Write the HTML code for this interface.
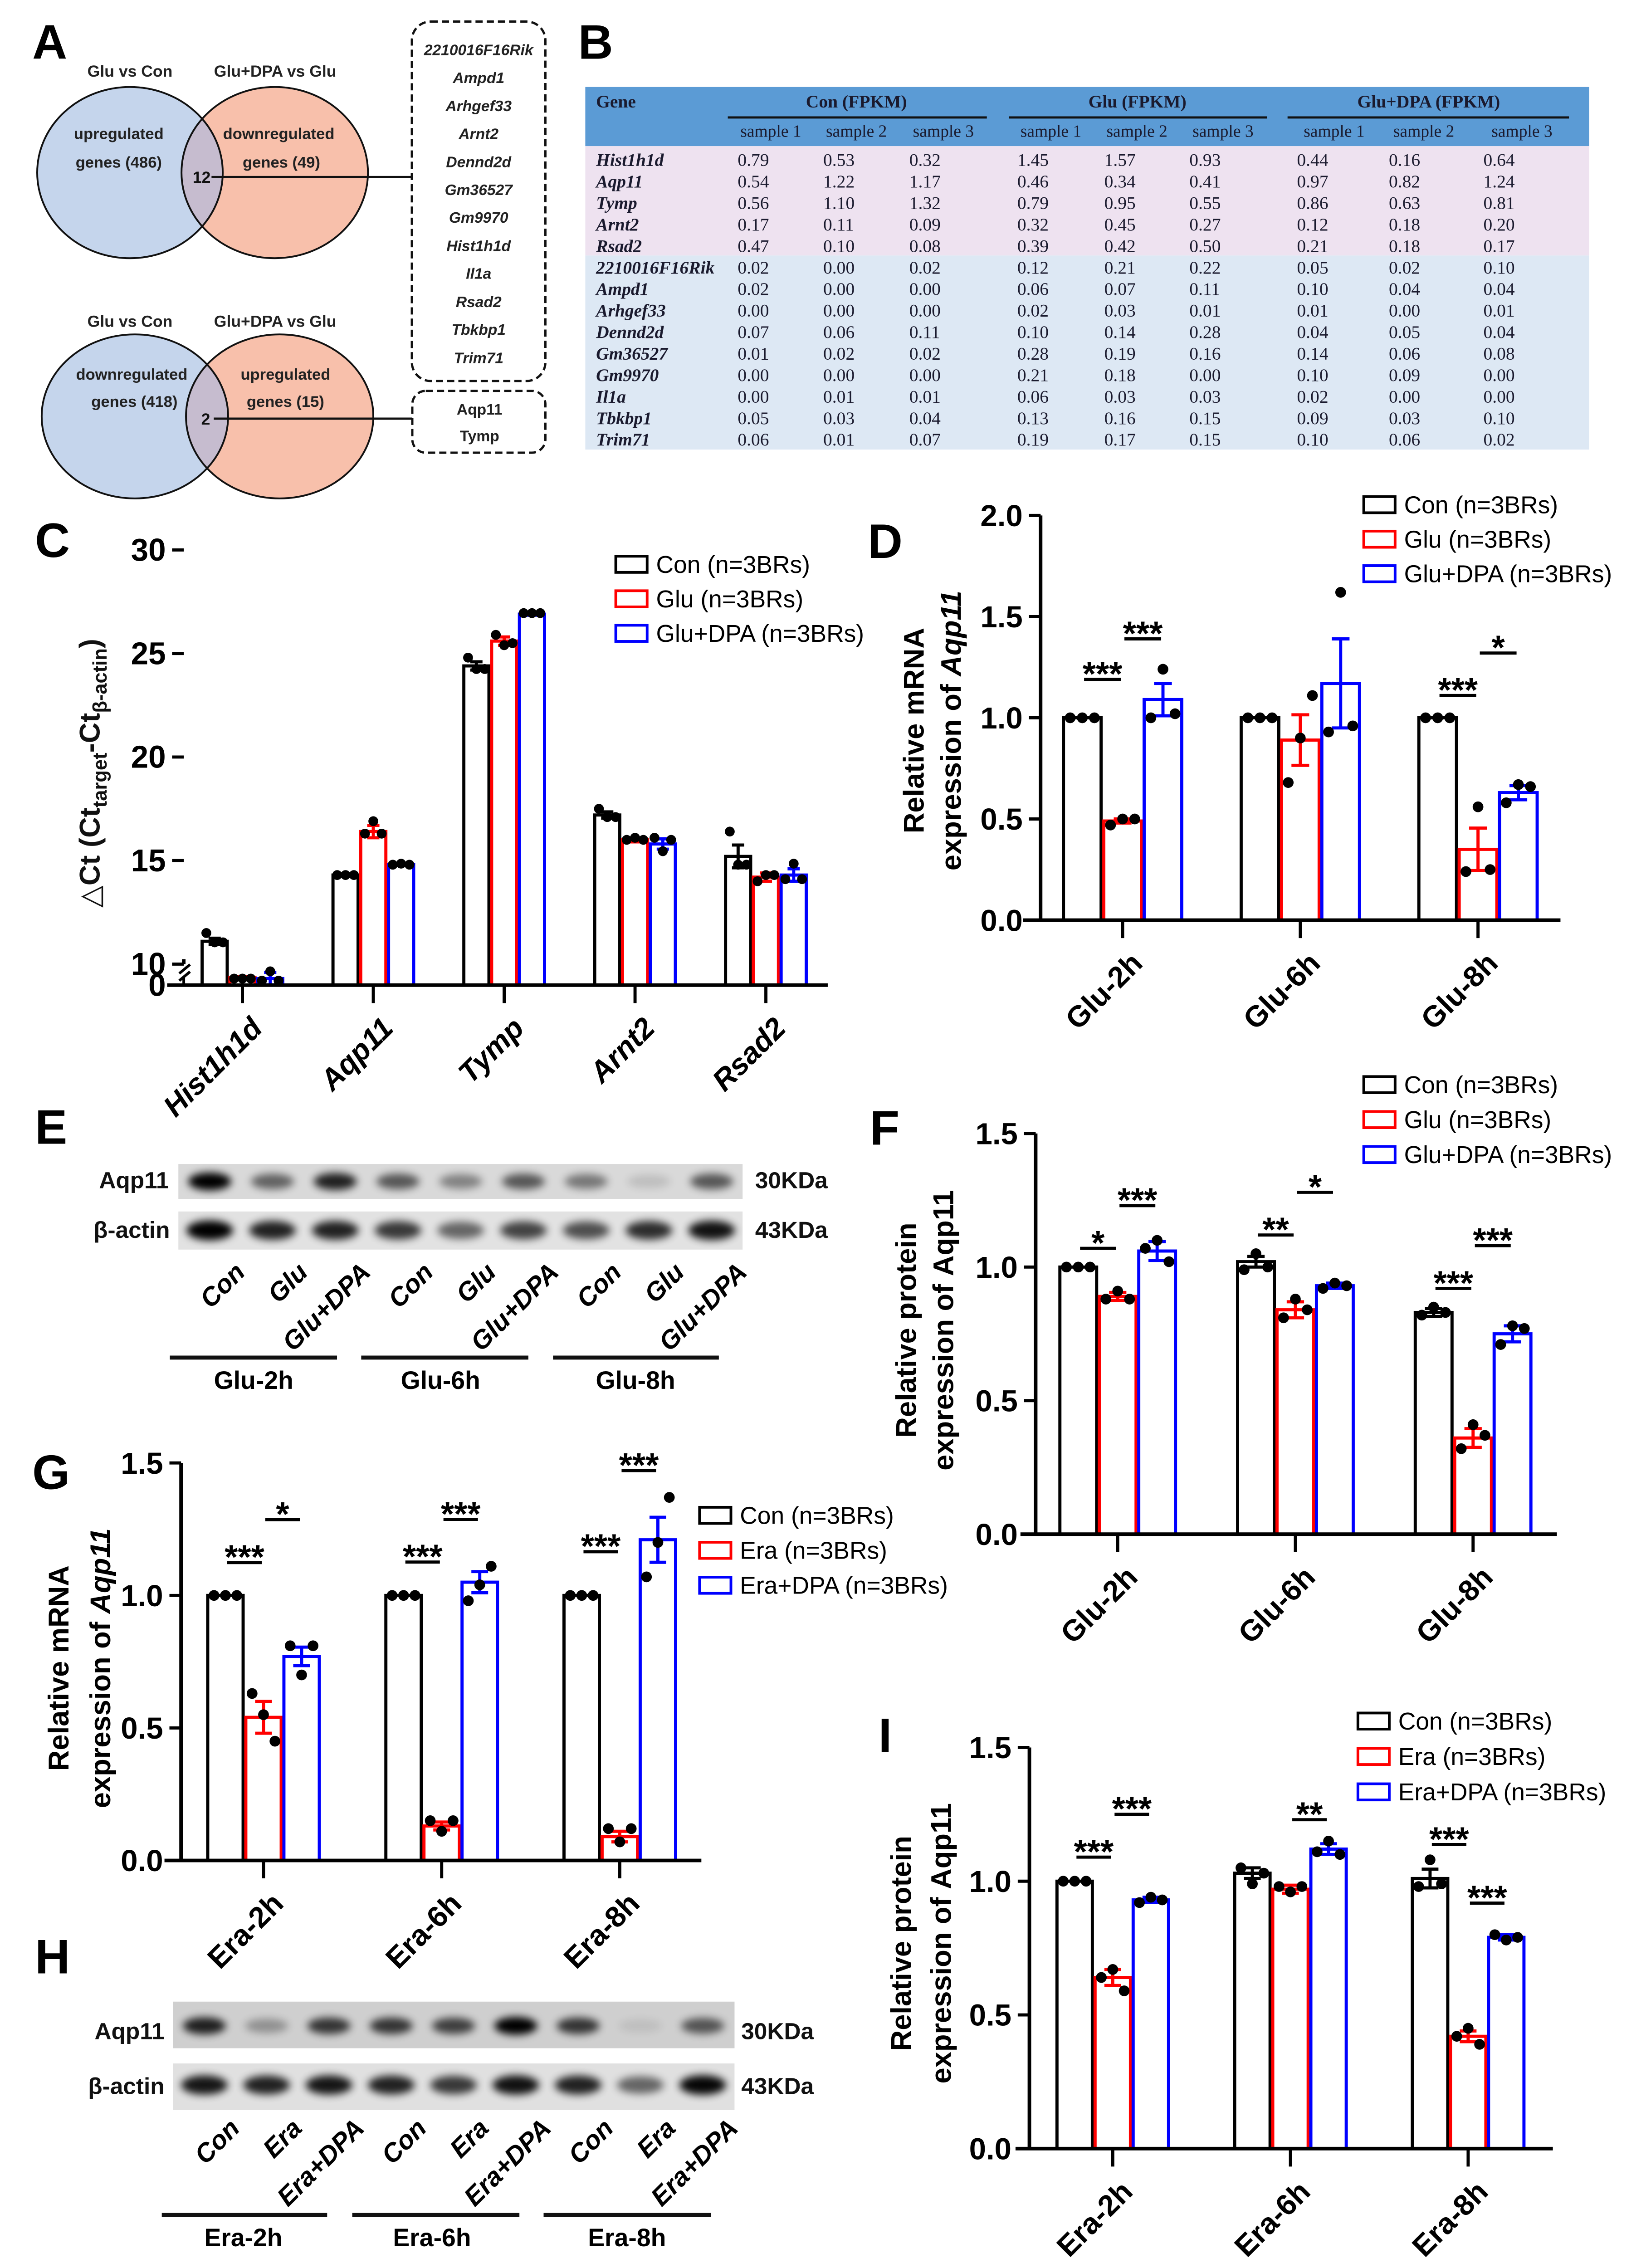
<!DOCTYPE html>
<html><head><meta charset="utf-8">
<style>
html,body{margin:0;padding:0;background:#fff;}
svg{display:block;}
text{font-family:"Liberation Sans",Arial,sans-serif;}
.serif{font-family:"Liberation Serif","Times New Roman",serif;}
</style></head>
<body>
<svg id="fig" xmlns="http://www.w3.org/2000/svg" width="3640" height="5062" viewBox="0 0 3684 5123">
<defs>
<filter id="blur" x="-50%" y="-100%" width="200%" height="300%"><feGaussianBlur stdDeviation="9"/></filter>
<clipPath id="clipL1"><ellipse cx="290" cy="385" rx="207" ry="191"/></clipPath>
<clipPath id="clipL2"><ellipse cx="301" cy="929" rx="208" ry="183"/></clipPath>
</defs>
<rect x="0" y="0" width="3684" height="5123" fill="#fff"/>

<!-- Panel letters -->
<g font-weight="bold" font-size="108">
<text x="72" y="131">A</text>
<text x="1290" y="131">B</text>
<text x="78" y="1243">C</text>
<text x="1936" y="1245">D</text>
<text x="78" y="2552">E</text>
<text x="1941" y="2554">F</text>
<text x="72" y="3322">G</text>
<text x="78" y="4403">H</text>
<text x="1960" y="3909">I</text>
</g>

<!-- Panel A: Venn diagrams -->
<g>
<text x="290" y="171" font-size="36" font-weight="bold" text-anchor="middle" fill="#222">Glu vs Con</text>
<text x="614" y="171" font-size="36" font-weight="bold" text-anchor="middle" fill="#222">Glu+DPA vs Glu</text>
<ellipse cx="290" cy="385" rx="207" ry="191" fill="#c5d5ec"/>
<ellipse cx="613" cy="385" rx="208" ry="191" fill="#f8c0ab"/>
<ellipse cx="613" cy="385" rx="208" ry="191" fill="#c6bccf" clip-path="url(#clipL1)"/>
<ellipse cx="290" cy="385" rx="207" ry="191" fill="none" stroke="#111" stroke-width="4"/>
<ellipse cx="613" cy="385" rx="208" ry="191" fill="none" stroke="#111" stroke-width="4"/>
<text x="265" y="310" font-size="35" font-weight="bold" text-anchor="middle" fill="#222">upregulated</text>
<text x="265" y="374" font-size="35" font-weight="bold" text-anchor="middle" fill="#222">genes (486)</text>
<text x="622" y="310" font-size="35" font-weight="bold" text-anchor="middle" fill="#222">downregulated</text>
<text x="628" y="374" font-size="35" font-weight="bold" text-anchor="middle" fill="#222">genes (49)</text>
<text x="450" y="408" font-size="36" font-weight="bold" text-anchor="middle" fill="#111">12</text>
<line x1="472" y1="395" x2="919" y2="395" stroke="#111" stroke-width="5"/>
</g>
<g>
<rect x="919" y="48" width="298" height="802" rx="42" fill="none" stroke="#111" stroke-width="5" stroke-dasharray="16,9"/>
<g font-size="34" font-weight="bold" font-style="italic" text-anchor="middle" fill="#222">
<text x="1068" y="123">2210016F16Rik</text>
<text x="1068" y="185">Ampd1</text>
<text x="1068" y="248">Arhgef33</text>
<text x="1068" y="310">Arnt2</text>
<text x="1068" y="373">Dennd2d</text>
<text x="1068" y="435">Gm36527</text>
<text x="1068" y="497">Gm9970</text>
<text x="1068" y="560">Hist1h1d</text>
<text x="1068" y="622">Il1a</text>
<text x="1068" y="685">Rsad2</text>
<text x="1068" y="747">Tbkbp1</text>
<text x="1068" y="810">Trim71</text>
</g>
</g>
<g>
<text x="290" y="729" font-size="36" font-weight="bold" text-anchor="middle" fill="#222">Glu vs Con</text>
<text x="614" y="729" font-size="36" font-weight="bold" text-anchor="middle" fill="#222">Glu+DPA vs Glu</text>
<ellipse cx="301" cy="929" rx="208" ry="183" fill="#c5d5ec"/>
<ellipse cx="624" cy="929" rx="209" ry="183" fill="#f8c0ab"/>
<ellipse cx="624" cy="929" rx="209" ry="183" fill="#c6bccf" clip-path="url(#clipL2)"/>
<ellipse cx="301" cy="929" rx="208" ry="183" fill="none" stroke="#111" stroke-width="4"/>
<ellipse cx="624" cy="929" rx="209" ry="183" fill="none" stroke="#111" stroke-width="4"/>
<text x="294" y="847" font-size="35" font-weight="bold" text-anchor="middle" fill="#222">downregulated</text>
<text x="300" y="908" font-size="35" font-weight="bold" text-anchor="middle" fill="#222">genes (418)</text>
<text x="637" y="847" font-size="35" font-weight="bold" text-anchor="middle" fill="#222">upregulated</text>
<text x="637" y="908" font-size="35" font-weight="bold" text-anchor="middle" fill="#222">genes (15)</text>
<text x="459" y="947" font-size="36" font-weight="bold" text-anchor="middle" fill="#111">2</text>
<line x1="477" y1="934" x2="920" y2="934" stroke="#111" stroke-width="5"/>
<rect x="920" y="872" width="297" height="138" rx="30" fill="none" stroke="#111" stroke-width="5" stroke-dasharray="16,9"/>
<text x="1070" y="925" font-size="34" font-weight="bold" text-anchor="middle" fill="#222">Aqp11</text>
<text x="1070" y="984" font-size="34" font-weight="bold" text-anchor="middle" fill="#222">Tymp</text>
</g>

<!-- Panel B table -->
<g id="tableB">
<rect x="1306" y="194" width="2240" height="132" fill="#5b9bd5"/>
<rect x="1306" y="326" width="2240" height="244" fill="#eee2f0"/>
<rect x="1306" y="570" width="2240" height="433" fill="#dde8f4"/>
<g class="serif" font-size="40" fill="#1a1a2e">
<text class="serif" x="1330" y="240" font-weight="bold">Gene</text>
<text class="serif" x="1911" y="240" text-anchor="middle" font-weight="bold">Con (FPKM)</text>
<text class="serif" x="2538" y="240" text-anchor="middle" font-weight="bold">Glu (FPKM)</text>
<text class="serif" x="3188" y="240" text-anchor="middle" font-weight="bold">Glu+DPA (FPKM)</text>
</g>
<line x1="1624" y1="262" x2="2202" y2="262" stroke="#111" stroke-width="5"/>
<line x1="2251" y1="262" x2="2827" y2="262" stroke="#111" stroke-width="5"/>
<line x1="2873" y1="262" x2="3501" y2="262" stroke="#111" stroke-width="5"/>
</g>

<!-- Panel E blot -->
<g id="blotE">
<rect x="398" y="2597" width="1259" height="78" fill="#d9d9d9"/>
<rect x="398" y="2703" width="1259" height="85" fill="#e2e2e2"/>
<g font-size="52" font-weight="bold" fill="#111">
<text x="377" y="2651" text-anchor="end">Aqp11</text>
<text x="379" y="2762" text-anchor="end">β-actin</text>
<text x="1685" y="2651">30KDa</text>
<text x="1685" y="2762">43KDa</text>
</g>
</g>
<!-- Panel H blot -->
<g id="blotH">
<rect x="386" y="4466" width="1253" height="104" fill="#cfcfcf"/>
<rect x="386" y="4604" width="1253" height="104" fill="#e0e0e0"/>
<g font-size="52" font-weight="bold" fill="#111">
<text x="367" y="4550" text-anchor="end">Aqp11</text>
<text x="367" y="4672" text-anchor="end">β-actin</text>
<text x="1654" y="4550">30KDa</text>
<text x="1654" y="4672">43KDa</text>
</g>
</g>
</svg>

<script>
// ---------- DATA ----------
// Table B
const tableGenes = ['Hist1h1d','Aqp11','Tymp','Arnt2','Rsad2','2210016F16Rik','Ampd1','Arhgef33','Dennd2d','Gm36527','Gm9970','Il1a','Tbkbp1','Trim71'];
const tableValues = [
 ['0.79','0.53','0.32','1.45','1.57','0.93','0.44','0.16','0.64'],
 ['0.54','1.22','1.17','0.46','0.34','0.41','0.97','0.82','1.24'],
 ['0.56','1.10','1.32','0.79','0.95','0.55','0.86','0.63','0.81'],
 ['0.17','0.11','0.09','0.32','0.45','0.27','0.12','0.18','0.20'],
 ['0.47','0.10','0.08','0.39','0.42','0.50','0.21','0.18','0.17'],
 ['0.02','0.00','0.02','0.12','0.21','0.22','0.05','0.02','0.10'],
 ['0.02','0.00','0.00','0.06','0.07','0.11','0.10','0.04','0.04'],
 ['0.00','0.00','0.00','0.02','0.03','0.01','0.01','0.00','0.01'],
 ['0.07','0.06','0.11','0.10','0.14','0.28','0.04','0.05','0.04'],
 ['0.01','0.02','0.02','0.28','0.19','0.16','0.14','0.06','0.08'],
 ['0.00','0.00','0.00','0.21','0.18','0.00','0.10','0.09','0.00'],
 ['0.00','0.01','0.01','0.06','0.03','0.03','0.02','0.00','0.00'],
 ['0.05','0.03','0.04','0.13','0.16','0.15','0.09','0.03','0.10'],
 ['0.06','0.01','0.07','0.19','0.17','0.15','0.10','0.06','0.02']
];
const tableSampleLabels = ['sample 1','sample 2','sample 3','sample 1','sample 2','sample 3','sample 1','sample 2','sample 3'];

// Panel C
const cCategories = ['Hist1h1d','Aqp11','Tymp','Arnt2','Rsad2'];
const cTickLabels = ['30','25','20','15','10'];
const cTickValues = [30,25,20,15,10];
const cConMeans = [11.1,14.3,24.4,17.2,15.2];
const cGluMeans = [9.35,16.4,25.6,16.0,14.2];
const cDpaMeans = [9.3,14.8,26.9,15.8,14.3];
const cConErr = [0.15,0.05,0.2,0.15,0.55];
const cGluErr = [0.05,0.3,0.2,0.1,0.2];
const cDpaErr = [0.3,0.05,0.05,0.25,0.3];
const cConDots = [[11.5,11.05,11.05],[14.3,14.3,14.3],[24.8,24.25,24.25],[17.5,17.1,17.1],[16.4,14.8,14.8]];
const cGluDots = [[9.3,9.3,9.3],[16.3,16.9,16.3],[25.9,25.4,25.5],[16.0,16.1,16.0],[14.0,14.3,14.3]];
const cDpaDots = [[9.2,9.65,9.2],[14.8,14.85,14.8],[26.95,26.95,26.95],[16.1,15.45,16.0],[14.1,14.85,14.1]];

// Panel D
const dCategories = ['Glu-2h','Glu-6h','Glu-8h'];
const dTickLabels = ['0.0','0.5','1.0','1.5','2.0'];
const dTickValues = [0,0.5,1.0,1.5,2.0];
const dConMeans = [1.0,1.0,1.0];
const dGluMeans = [0.49,0.89,0.35];
const dDpaMeans = [1.09,1.17,0.63];
const dConErr = [0,0,0];
const dGluErr = [0.01,0.125,0.105];
const dDpaErr = [0.08,0.22,0.035];
const dConDots = [[1,1,1],[1,1,1],[1,1,1]];
const dGluDots = [[0.47,0.5,0.5],[0.68,0.9,1.11],[0.24,0.56,0.25]];
const dDpaDots = [[1.0,1.24,1.02],[0.93,1.62,0.96],[0.58,0.67,0.66]];
const dSigGroup = [0,0,2,2];
const dSigPair = [0,1,0,1];
const dSigLevel = [1.19,1.39,1.11,1.32];
const dSigText = ['***','***','***','*'];

// Panel F
const fCategories = ['Glu-2h','Glu-6h','Glu-8h'];
const fTickLabels = ['0.0','0.5','1.0','1.5'];
const fTickValues = [0,0.5,1.0,1.5];
const fConMeans = [1.0,1.02,0.83];
const fGluMeans = [0.89,0.84,0.36];
const fDpaMeans = [1.06,0.93,0.75];
const fConErr = [0,0.02,0.015];
const fGluErr = [0.015,0.03,0.035];
const fDpaErr = [0.035,0.01,0.03];
const fConDots = [[1,1,1],[0.99,1.05,1.0],[0.82,0.85,0.83]];
const fGluDots = [[0.88,0.91,0.88],[0.81,0.88,0.84],[0.32,0.41,0.37]];
const fDpaDots = [[1.07,1.10,1.02],[0.92,0.94,0.93],[0.71,0.78,0.77]];
const fSigGroup = [0,0,1,1,2,2];
const fSigPair = [0,1,0,1,0,1];
const fSigLevel = [1.07,1.23,1.12,1.28,0.92,1.08];
const fSigText = ['*','***','**','*','***','***'];

// Panel G
const gCategories = ['Era-2h','Era-6h','Era-8h'];
const gTickLabels = ['0.0','0.5','1.0','1.5'];
const gTickValues = [0,0.5,1.0,1.5];
const gConMeans = [1.0,1.0,1.0];
const gEraMeans = [0.54,0.13,0.09];
const gDpaMeans = [0.77,1.05,1.21];
const gConErr = [0,0,0];
const gEraErr = [0.06,0.015,0.02];
const gDpaErr = [0.035,0.04,0.085];
const gConDots = [[1,1,1],[1,1,1],[1,1,1]];
const gEraDots = [[0.63,0.55,0.45],[0.15,0.11,0.15],[0.12,0.07,0.12]];
const gDpaDots = [[0.81,0.70,0.81],[0.98,1.04,1.11],[1.07,1.20,1.37]];
const gSigGroup = [0,0,1,1,2,2];
const gSigPair = [0,1,0,1,0,1];
const gSigLevel = [1.124,1.286,1.126,1.287,1.165,1.471];
const gSigText = ['***','*','***','***','***','***'];

// Panel I
const iCategories = ['Era-2h','Era-6h','Era-8h'];
const iTickLabels = ['0.0','0.5','1.0','1.5'];
const iTickValues = [0,0.5,1.0,1.5];
const iConMeans = [1.0,1.03,1.01];
const iEraMeans = [0.64,0.97,0.42];
const iDpaMeans = [0.93,1.12,0.79];
const iConErr = [0,0.02,0.035];
const iEraErr = [0.03,0.015,0.02];
const iDpaErr = [0.01,0.02,0.01];
const iConDots = [[1,1,1],[1.05,0.99,1.03],[0.98,1.08,0.99]];
const iEraDots = [[0.64,0.67,0.59],[0.98,0.96,0.98],[0.42,0.45,0.39]];
const iDpaDots = [[0.92,0.94,0.93],[1.11,1.15,1.10],[0.80,0.78,0.79]];
const iSigGroup = [0,0,1,2,2];
const iSigPair = [0,1,1,0,1];
const iSigLevel = [1.09,1.25,1.23,1.137,0.918];
const iSigText = ['***','***','**','***','***'];

// Blots (band intensities)
const eLaneLabels = ['Con','Glu','Glu+DPA','Con','Glu','Glu+DPA','Con','Glu','Glu+DPA'];
const eAqpBands = [1.0,0.55,0.85,0.6,0.4,0.6,0.45,0.12,0.6];
const eActinBands = [1.0,0.85,0.85,0.75,0.55,0.7,0.65,0.8,0.92];
const eGroupLabels = ['Glu-2h','Glu-6h','Glu-8h'];
const hLaneLabels = ['Con','Era','Era+DPA','Con','Era','Era+DPA','Con','Era','Era+DPA'];
const hAqpBands = [0.85,0.3,0.75,0.75,0.7,1.0,0.75,0.08,0.6];
const hActinBands = [0.9,0.85,0.9,0.85,0.75,0.92,0.85,0.55,0.97];
const hGroupLabels = ['Era-2h','Era-6h','Era-8h'];

// ---------- HELPERS ----------
const NS = 'http://www.w3.org/2000/svg';
const svg = document.getElementById('fig');
function mk(tag, attrs, parent){
  const e = document.createElementNS(NS, tag);
  for (const k in attrs) e.setAttribute(k, attrs[k]);
  (parent || svg).appendChild(e);
  return e;
}
function tx(str, attrs, parent){ const e = mk('text', attrs, parent); e.textContent = str; return e; }

// ---------- TABLE ----------
(function(){
  const g = document.getElementById('tableB');
  const sampleX = [1720,1911,2105,2345,2537,2729,2977,3177,3396];
  const valX = [1646,1837,2029,2270,2464,2654,2894,3099,3310];
  for (let j=0;j<tableSampleLabels.length;j++){
    const t = tx(tableSampleLabels[j], {x:sampleX[j], y:305, 'font-size':38, 'text-anchor':'middle', fill:'#1a1a2e', class:'serif'}, g);
    
    
  }
  for (let i=0;i<tableGenes.length;i++){
    const y = 356 + i*48 + 14;
    const gt = tx(tableGenes[i], {x:1330, y:y, 'font-size':40, 'font-style':'italic', 'font-weight':'bold', fill:'#1a1a2e', class:'serif'}, g);
    
    
    for (let j=0;j<9;j++){
      const vt = tx(tableValues[i][j], {x:valX[j], y:y, 'font-size':40, fill:'#1a1a2e', class:'serif'}, g);
      
      
    }
  }
})();

// ---------- BAR CHART ----------
const COLORS = ['#000000','#ff0000','#0000ff'];
function drawChart(P){
  const g = mk('g', {});
  
  
  const scale = P.scale || (v => P.y0 - v*P.ppu);
  const n = P.cats.length;
  const cx = i => P.tick0 + i*P.tickGap;
  const barX = (i,s) => cx(i) + (s-1)*P.barW;
  const yAx = mk('line', {x1:P.xAxis, y1:scale(P.tickVals[P.tickVals.length-1]) , x2:P.xAxis, y2:P.axisBottom || P.y0, stroke:'#000', 'stroke-width':8}, g);
  
  
  for (let k=0;k<P.tickVals.length;k++){
    const y = scale(P.tickVals[k]);
    const tk = mk('line', {x1:P.xAxis-26, y1:y, x2:P.xAxis, y2:y, stroke:'#000', 'stroke-width':7}, g);
    
    
    const tl = tx(P.tickLabels[k], {x:P.xAxis-40, y:y+24, 'font-size':P.tickFont||68, 'font-weight':'bold', 'text-anchor':'end'}, g);
    
    
  }
  const series = [P.s0, P.s1, P.s2];
  for (let s=0;s<3;s++){
    for (let i=0;i<n;i++){
      const v = series[s].means[i];
      const yT = scale(v);
      const b = mk('rect', {x:barX(i,s)-P.barW/2+3, y:yT, width:P.barW-6, height:Math.max(0,P.y0-yT), fill:'#fff', stroke:COLORS[s], 'stroke-width':7}, g);
      
      
    }
  }
  for (let s=0;s<3;s++){
    for (let i=0;i<n;i++){
      const m = series[s].means[i], e = series[s].err[i];
      const x = barX(i,s);
      if (e > 0){
        const eg = mk('g', {stroke:COLORS[s], 'stroke-width':7}, g);
        
        
        mk('line', {x1:x, y1:scale(m+e), x2:x, y2:scale(m-e)}, eg);
        mk('line', {x1:x-P.barW*0.22, y1:scale(m+e), x2:x+P.barW*0.22, y2:scale(m+e)}, eg);
        mk('line', {x1:x-P.barW*0.22, y1:scale(m-e), x2:x+P.barW*0.22, y2:scale(m-e)}, eg);
      }
      const ds = series[s].dots[i];
      const off = [-0.3,0,0.3];
      for (let d=0;d<ds.length;d++){
        const c = mk('circle', {cx:x+off[d]*P.barW, cy:scale(ds[d]), r:P.dotR||12, fill:'#000'}, g);
        
        
      }
    }
  }
  const xAx = mk('line', {x1:P.xStart, y1:P.y0, x2:P.xEnd, y2:P.y0, stroke:'#000', 'stroke-width':8}, g);
  
  
  for (let i=0;i<n;i++){
    const t = mk('line', {x1:cx(i), y1:P.y0, x2:cx(i), y2:P.y0+40, stroke:'#000', 'stroke-width':7}, g);
    
    
    const lbl = tx(P.cats[i], {transform:'translate(' + (cx(i)+48) + ',' + (P.y0+100) + ') rotate(-45)', 'font-size':P.xFont||66, 'font-weight':'bold', 'font-style':P.xItalic?'italic':'normal', 'text-anchor':'end'}, g);
    
    
  }
  if (P.sig){
    for (let k=0;k<P.sig.group.length;k++){
      const i = P.sig.group[k], p = P.sig.pair[k];
      const y = scale(P.sig.level[k]);
      const x1 = barX(i,p), x2 = barX(i,p+1);
      const sl = mk('line', {x1:x1+4, y1:y, x2:x2-4, y2:y, stroke:'#000', 'stroke-width':7}, g);
      
      
      const st = tx(P.sig.text[k], {x:(x1+x2)/2, y:y+14, 'font-size':76, 'font-weight':'bold', 'text-anchor':'middle'}, g);
      
      
    }
  }
  for (let s=0;s<3;s++){
    const ly = P.legY + s*P.legGap;
    const lb = mk('rect', {x:P.legX, y:ly-18, width:70, height:36, fill:'#fff', stroke:COLORS[s], 'stroke-width':6}, g);
    
    
    const lt = tx(P.legLabels[s], {x:P.legX+90, y:ly+19, 'font-size':54}, g);
    
    
  }
  const tg = mk('g', {transform:'translate(' + P.titleX + ',' + P.titleY + ') rotate(-90)', 'font-size':64, 'font-weight':'bold', 'text-anchor':'middle'}, g);
  
  
  tx(P.title1, {x:0, y:22}, tg);
  const t2 = mk('text', {x:0, y:22 + P.titleGap}, tg);
  const a = mk('tspan', {}, t2); a.textContent = 'expression of ';
  const b2 = mk('tspan', {'font-style':P.titleItalic?'italic':'normal'}, t2); b2.textContent = 'Aqp11';
  return g;
}

// Panel C
(function(){
  const y0 = 2198, y10 = 2151, k = 46.2;
  const scale = v => v >= 10 ? y10 - (v-10)*k : Math.min(y0, y10 + (10-v)*k);
  const g = drawChart({
    name:'chart-c-delta-ct', cats:cCategories, tickVals:cTickValues, tickLabels:cTickLabels,
    scale:scale, y0:y0, xAxis:410, axisBottom:2140, xStart:373, xEnd:1847,
    tick0:541, tickGap:292, barW:62, dotR:11, xFont:66, xItalic:true, tickFont:70,
    seriesNames:['Con','Glu','Glu+DPA'],
    s0:{means:cConMeans, err:cConErr, dots:cConDots},
    s1:{means:cGluMeans, err:cGluErr, dots:cGluDots},
    s2:{means:cDpaMeans, err:cDpaErr, dots:cDpaDots},
    legX:1374, legY:1259, legGap:77, legLabels:['Con (n=3BRs)','Glu (n=3BRs)','Glu+DPA (n=3BRs)'],
    titleX:0, titleY:0, title1:'', titleGap:0
  });
  g.removeChild(g.lastChild);
  const z = tx('0', {x:370, y:2222, 'font-size':70, 'font-weight':'bold', 'text-anchor':'end'}, g);
  
  
  const br = mk('g', {stroke:'#000', 'stroke-width':6}, g);
  
  
  mk('line', {x1:400, y1:2172, x2:424, y2:2152}, br);
  mk('line', {x1:400, y1:2188, x2:424, y2:2168}, br);
  mk('line', {x1:410, y1:2180, x2:410, y2:2198}, br);
  const tt = mk('text', {transform:'translate(222,1725) rotate(-90)', 'font-size':64, 'font-weight':'bold', 'text-anchor':'middle', fill:'#111'}, g);
  
  
  const parts = [['△','normal',0,'64'],['Ct (Ct','bold',0,'64'],['target','bold',16,'44'],['-Ct','bold',-16,'64'],['β-actin','bold',16,'44'],[')','bold',-16,'64']];
  for (const p of parts){ const s = mk('tspan', {'font-weight':p[1], dy:p[2], 'font-size':p[3]}, tt); s.textContent = p[0]; }
})();

// Panel D
drawChart({
  name:'chart-d-mrna-glu', cats:dCategories, tickVals:dTickValues, tickLabels:dTickLabels,
  y0:2053, ppu:451.5, xAxis:2322, xStart:2283, xEnd:3482, tick0:2505, tickGap:396.5, barW:90,
  seriesNames:['Con','Glu','Glu+DPA'],
  s0:{means:dConMeans, err:dConErr, dots:dConDots},
  s1:{means:dGluMeans, err:dGluErr, dots:dGluDots},
  s2:{means:dDpaMeans, err:dDpaErr, dots:dDpaDots},
  sig:{group:dSigGroup, pair:dSigPair, level:dSigLevel, text:dSigText},
  legX:3043, legY:1126, legGap:77, legLabels:['Con (n=3BRs)','Glu (n=3BRs)','Glu+DPA (n=3BRs)'],
  titleX:2039, titleY:1630, titleGap:83, title1:'Relative mRNA', titleItalic:true
});
// Panel F
drawChart({
  name:'chart-f-protein-glu', cats:fCategories, tickVals:fTickValues, tickLabels:fTickLabels,
  y0:3423, ppu:596, xAxis:2311, xStart:2277, xEnd:3474, tick0:2494, tickGap:396.5, barW:88,
  seriesNames:['Con','Glu','Glu+DPA'],
  s0:{means:fConMeans, err:fConErr, dots:fConDots},
  s1:{means:fGluMeans, err:fGluErr, dots:fGluDots},
  s2:{means:fDpaMeans, err:fDpaErr, dots:fDpaDots},
  sig:{group:fSigGroup, pair:fSigPair, level:fSigLevel, text:fSigText},
  legX:3043, legY:2420, legGap:78, legLabels:['Con (n=3BRs)','Glu (n=3BRs)','Glu+DPA (n=3BRs)'],
  titleX:2022, titleY:2968, titleGap:83, title1:'Relative protein', titleItalic:false
});
// Panel G
drawChart({
  name:'chart-g-mrna-era', cats:gCategories, tickVals:gTickValues, tickLabels:gTickLabels,
  y0:4151, ppu:591.3, xAxis:404, xStart:367, xEnd:1565, tick0:588, tickGap:397.5, barW:85,
  seriesNames:['Con','Era','Era+DPA'],
  s0:{means:gConMeans, err:gConErr, dots:gConDots},
  s1:{means:gEraMeans, err:gEraErr, dots:gEraDots},
  s2:{means:gDpaMeans, err:gDpaErr, dots:gDpaDots},
  sig:{group:gSigGroup, pair:gSigPair, level:gSigLevel, text:gSigText},
  legX:1561, legY:3381, legGap:78, legLabels:['Con (n=3BRs)','Era (n=3BRs)','Era+DPA (n=3BRs)'],
  titleX:131, titleY:3722, titleGap:93, title1:'Relative mRNA', titleItalic:true
});
// Panel I
drawChart({
  name:'chart-i-protein-era', cats:iCategories, tickVals:iTickValues, tickLabels:iTickLabels,
  y0:4794, ppu:596.7, xAxis:2297, xStart:2266, xEnd:3465, tick0:2483, tickGap:396.5, barW:85,
  seriesNames:['Con','Era','Era+DPA'],
  s0:{means:iConMeans, err:iConErr, dots:iConDots},
  s1:{means:iEraMeans, err:iEraErr, dots:iEraDots},
  s2:{means:iDpaMeans, err:iDpaErr, dots:iDpaDots},
  sig:{group:iSigGroup, pair:iSigPair, level:iSigLevel, text:iSigText},
  legX:3030, legY:3840, legGap:79, legLabels:['Con (n=3BRs)','Era (n=3BRs)','Era+DPA (n=3BRs)'],
  titleX:2011, titleY:4336, titleGap:89, title1:'Relative protein', titleItalic:false
});

// ---------- BLOTS ----------
function drawBlot(gid, lane0, laneGap, aqpY, actY, aqp, act, labels, labelY, lineY, groupLabels, groupX, lineX){
  const g = document.getElementById(gid);
  for (let i=0;i<9;i++){
    const x = lane0 + i*laneGap;
    const b1 = mk('ellipse', {cx:x, cy:aqpY, rx:48, ry:14+aqp[i]*6, fill:'#000', opacity:aqp[i], filter:'url(#blur)'}, g);
    
    
    const b2 = mk('ellipse', {cx:x, cy:actY, rx:52, ry:16+act[i]*6, fill:'#000', opacity:act[i], filter:'url(#blur)'}, g);
    
    
    const l = tx(labels[i], {transform:'translate(' + (x+82) + ',' + labelY + ') rotate(-45)', 'font-size':58, 'font-weight':'bold', 'font-style':'italic', 'text-anchor':'end'}, g);
    
    
  }
  for (let k=0;k<3;k++){
    const ln = mk('line', {x1:lineX[k][0], y1:lineY, x2:lineX[k][1], y2:lineY, stroke:'#111', 'stroke-width':9}, g);
    
    
    const gl = tx(groupLabels[k], {x:groupX[k], y:lineY+70, 'font-size':56, 'font-weight':'bold', 'text-anchor':'middle'}, g);
    
    
  }
}
drawBlot('blotE', 468, 140, 2636, 2745, eAqpBands, eActinBands, eLaneLabels, 2842, 3029, eGroupLabels, [566,983,1418], [[379,752],[806,1179],[1234,1604]]);
drawBlot('blotH', 456, 139, 4520, 4652, hAqpBands, hActinBands, hLaneLabels, 4752, 4942, hGroupLabels, [543,964,1399], [[361,730],[786,1159],[1213,1586]]);
</script>
</body></html>
